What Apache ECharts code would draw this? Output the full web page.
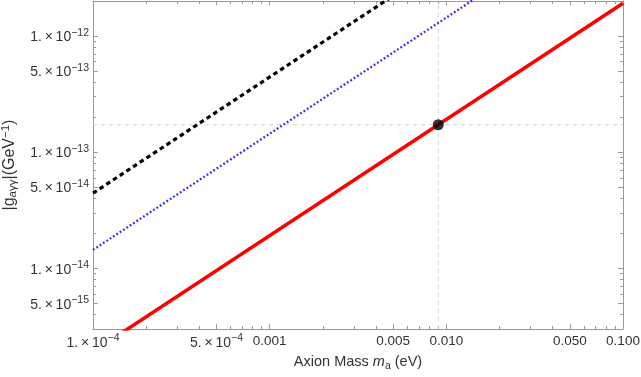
<!DOCTYPE html>
<html><head><meta charset="utf-8">
<script src="https://cdn.jsdelivr.net/npm/echarts@6/dist/echarts.min.js"></script>
<style>html,body{margin:0;padding:0;background:#fff}#c{width:641px;height:377px}</style>
</head><body><div id="c"></div>
<script>
// ---- data ----
const massEnds = [1e-4, 0.1];                 // eV
const redLine = [1.91e-15, 1.91e-12];         // solid red
const blueLine = [1.44e-14, 1.44e-11];        // dotted blue
const blackLine = [4.43e-14, 4.43e-11];       // dashed black
const markPoint = [0.009, 1.72e-13];
const xMajor = [1e-4, 5e-4, 1e-3, 5e-3, 1e-2, 5e-2, 1e-1];
const xMinor = [2e-4,3e-4,4e-4,6e-4,7e-4,8e-4,9e-4,2e-3,3e-3,4e-3,6e-3,7e-3,8e-3,9e-3,2e-2,3e-2,4e-2,6e-2,7e-2,8e-2,9e-2];
const yMajor = [5e-15, 1e-14, 5e-14, 1e-13, 5e-13, 1e-12];
const yMinor = [4e-15,6e-15,7e-15,8e-15,9e-15,2e-14,3e-14,4e-14,6e-14,7e-14,8e-14,9e-14,2e-13,3e-13,4e-13,6e-13,7e-13,8e-13,9e-13];
const xRange = [1e-4, 0.1];
const yRange = [3e-15, 2e-12];

const FONT = 'Liberation Sans, Arial, sans-serif';
const AX = '#999999';
const LBL = '#333';
function pair(xs, ys){ return xs.map((x,i)=>[x, ys[i]]); }
function sci(v){
  const e = Math.floor(Math.log10(v) + 1e-9);
  const m = Math.round(v / Math.pow(10, e));
  return '{m|' + m + '.\u2009\u00d7\u200910}{e|\u2212' + Math.abs(e) + '}';
}
const richLbl = {
  m: {fontSize: 14, fontFamily: FONT, color: LBL, lineHeight: 17, verticalAlign: 'bottom'},
  e: {fontSize: 10.5, fontFamily: FONT, color: LBL, lineHeight: 11, verticalAlign: 'top'},
  d: {fontSize: 13.5, fontFamily: FONT, color: LBL, lineHeight: 17}
};
function xFmt(v){ return v < 0.00099 ? sci(v) : '{d|' + v.toFixed(3) + '}'; }
function yFmt(v){ return sci(v); }

function mkAxis(kind, pos, ticks, len, labels, extra){
  const rng = kind === 'x' ? xRange : yRange;
  const a = {
    type: 'log', logBase: 10, position: pos, min: rng[0], max: rng[1],
    axisLine: {show: true, onZero: false, lineStyle: {color: AX, width: 1}},
    axisTick: {show: true, inside: true, length: len, customValues: ticks, lineStyle: {color: AX, width: 1}},
    minorTick: {show: false},
    splitLine: {show: false},
    axisLabel: labels ? labels : {show: false}
  };
  return Object.assign(a, extra || {});
}

const chart = echarts.init(document.getElementById('c'), null, {renderer: 'canvas'});
chart.setOption({
  animation: false,
  backgroundColor: '#fff',
  grid: {left: 93, right: 18, top: 1, bottom: 48, containLabel: false, outerBoundsMode: 'none'},
  xAxis: [
    mkAxis('x', 'bottom', xMajor, 5, {show: true, customValues: xMajor, margin: 4, formatter: xFmt, rich: richLbl}, {
      name: '{t|Axion Mass }{i|m}{s|a}{t| (eV)}', nameLocation: 'middle', nameGap: 24,
      nameTextStyle: {rich: {
        t: {fontSize: 14.5, fontFamily: FONT, color: LBL, lineHeight: 18},
        i: {fontSize: 14.5, fontFamily: FONT, color: LBL, fontStyle: 'italic', lineHeight: 18},
        s: {fontSize: 10.5, fontFamily: FONT, color: LBL, lineHeight: 12, verticalAlign: 'bottom', padding: [5,0,0,0]}
      }}
    }),
    mkAxis('x', 'bottom', xMinor, 3, null, {axisLine: {show: false}}),
    mkAxis('x', 'top', xMajor, 4, null),
    mkAxis('x', 'top', xMinor, 3, null, {axisLine: {show: false}})
  ],
  yAxis: [
    mkAxis('y', 'left', yMajor, 5, {show: true, customValues: yMajor, margin: 4, formatter: yFmt, rich: richLbl}, {
      name: '{t||g}{s|a\u03b3\u03b3}{t||(GeV}{e|\u22121}{t|)}', nameLocation: 'middle', nameGap: 73, nameRotate: 90,
      nameTextStyle: {rich: {
        t: {fontSize: 16, fontFamily: FONT, color: LBL, lineHeight: 19},
        s: {fontSize: 11.5, fontFamily: FONT, color: LBL, lineHeight: 12, verticalAlign: 'bottom', padding: [6,0,0,0]},
        e: {fontSize: 11.5, fontFamily: FONT, color: LBL, lineHeight: 12, verticalAlign: 'top'}
      }}
    }),
    mkAxis('y', 'left', yMinor, 3, null, {axisLine: {show: false}}),
    mkAxis('y', 'right', yMajor, 5, null),
    mkAxis('y', 'right', yMinor, 3, null, {axisLine: {show: false}})
  ],
  series: [
    {type: 'line', name: 'vguide', data: [[markPoint[0], yRange[0]], [markPoint[0], yRange[1]]], symbol: 'none',
     lineStyle: {color: '#cfcfcf', type: [4, 4], width: 1}, z: 1, silent: true},
    {type: 'line', name: 'hguide', data: [[xRange[0], markPoint[1]], [xRange[1], markPoint[1]]], symbol: 'none',
     lineStyle: {color: '#cfcfcf', type: [4, 4], width: 1}, z: 1, silent: true},
    {type: 'line', name: 'red', data: pair(massEnds, redLine), symbol: 'none', clip: true,
     lineStyle: {color: '#ff0000', width: 3.5}, z: 3},
    {type: 'line', name: 'blue', data: pair(massEnds, blueLine), symbol: 'none', clip: true,
     lineStyle: {color: '#2a2aff', width: 2.3, type: [1.8, 2.2]}, z: 3},
    {type: 'line', name: 'black', data: pair(massEnds, blackLine), symbol: 'none', clip: true,
     lineStyle: {color: '#000', width: 3.2, type: [4.5, 3.5]}, z: 3},
    {type: 'scatter', name: 'pt', data: [markPoint], symbol: 'circle', symbolSize: 11,
     itemStyle: {color: '#000'}, z: 5}
  ]
});
</script></body></html>
